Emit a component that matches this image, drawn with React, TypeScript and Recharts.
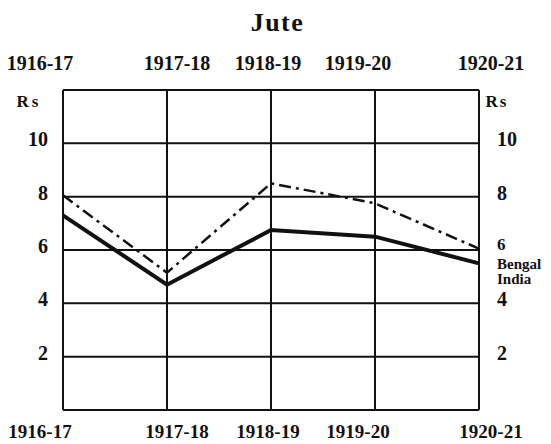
import React from 'react';
import { LineChart, Line, XAxis, YAxis, CartesianGrid } from 'recharts';

const years = ['1916-17', '1917-18', '1918-19', '1919-20', '1920-21'];
const bengal = [8.05, 5.15, 8.5, 7.75, 6.05];
const india = [7.3, 4.7, 6.75, 6.5, 5.5];
const yTicks = [0, 2, 4, 6, 8, 10, 12];
const labeledTicks = [2, 4, 6, 8, 10];
const unitLabel = 'Rs';
const seriesNames = ['Bengal', 'India'];
const title = 'Jute';

const data = years.map((y, i) => ({ year: y, bengal: bengal[i], india: india[i] }));

const FONT = '"Liberation Serif", "Times New Roman", serif';
const LABEL_SHIFT = [-23, 10, -3, -17, 12];

const TopTick = (props: any) => {
  const { x, y, payload, index } = props;
  return (
    <text x={x + LABEL_SHIFT[index]} y={y - 27} dy="0.35em" textAnchor="middle"
      fontFamily={FONT} fontWeight="bold" fontSize={20} fill="#111">
      {payload.value}
    </text>
  );
};

const BottomTick = (props: any) => {
  const { x, y, payload, index } = props;
  return (
    <text x={x + LABEL_SHIFT[index]} y={y + 21} dy="0.35em" textAnchor="middle"
      fontFamily={FONT} fontWeight="bold" fontSize={19} fill="#111">
      {payload.value}
    </text>
  );
};

const LeftTick = (props: any) => {
  const { x, y, payload } = props;
  const v = payload.value;
  if (v === 12) {
    return (
      <text x={x - 34} y={y + 11} dy="0.35em" textAnchor="middle" letterSpacing={3}
        fontFamily={FONT} fontWeight="bold" fontSize={17} fill="#111">{unitLabel}</text>
    );
  }
  if (!labeledTicks.includes(v)) return null;
  return (
    <text x={x - 15} y={y - 4} dy="0.35em" textAnchor="end"
      fontFamily={FONT} fontWeight="bold" fontSize={20} fill="#111">{v}</text>
  );
};

const RightTick = (props: any) => {
  const { x, y, payload } = props;
  const v = payload.value;
  if (v === 12) {
    return (
      <text x={x + 18} y={y + 11} dy="0.35em" textAnchor="middle" letterSpacing={2}
        fontFamily={FONT} fontWeight="bold" fontSize={17} fill="#111">{unitLabel}</text>
    );
  }
  if (!labeledTicks.includes(v)) return null;
  const isSix = v === 6;
  return (
    <g>
      <text x={x + 18} y={y - (isSix ? 6 : 4)} dy="0.35em" textAnchor="start"
        fontFamily={FONT} fontWeight="bold" fontSize={isSix ? 17 : 20} fill="#111">{v}</text>
      {isSix && (
        <>
          <text x={x + 18} y={y + 14} dy="0.35em" textAnchor="start"
            fontFamily={FONT} fontWeight="bold" fontSize={15} fill="#111">{seriesNames[0]}</text>
          <text x={x + 18} y={y + 29} dy="0.35em" textAnchor="start"
            fontFamily={FONT} fontWeight="bold" fontSize={15} fill="#111">{seriesNames[1]}</text>
        </>
      )}
    </g>
  );
};

export default function App() {
  return (
    <div style={{ position: 'absolute', left: 0, top: 0, width: 551, height: 444, background: '#fff' }}>
      <div style={{
        position: 'absolute', left: 0, top: 8, width: 551, textAlign: 'center',
        fontFamily: FONT, fontWeight: 'bold', fontSize: 26, letterSpacing: 1.5, lineHeight: '30px', color: '#111',
        paddingLeft: 2,
      }}>{title}</div>
      <LineChart width={551} height={444} data={data} margin={{ top: 0, right: 0, bottom: 0, left: 0 }}>
        <CartesianGrid xAxisId="bottom" yAxisId="left" stroke="#111" strokeWidth={2} />
        <XAxis xAxisId="top" dataKey="year" orientation="top" height={90} axisLine={false}
          tickLine={false} tickSize={0} tickMargin={0} interval={0} tick={<TopTick />} />
        <XAxis xAxisId="bottom" dataKey="year" orientation="bottom" height={34} axisLine={false}
          tickLine={false} tickSize={0} tickMargin={0} interval={0} tick={<BottomTick />} />
        <YAxis yAxisId="left" orientation="left" width={63} domain={[0, 12]} ticks={yTicks}
          axisLine={false} tickLine={false} tickSize={0} tickMargin={0} interval={0} tick={<LeftTick />} />
        <YAxis yAxisId="right" orientation="right" width={72} domain={[0, 12]} ticks={yTicks}
          axisLine={false} tickLine={false} tickSize={0} tickMargin={0} interval={0} tick={<RightTick />} />
        <Line xAxisId="top" yAxisId="right" dataKey="bengal" stroke="#111" strokeWidth={2.5}
          strokeDasharray="12 5 3 5" dot={false} isAnimationActive={false} />
        <Line xAxisId="bottom" yAxisId="left" dataKey="india" stroke="#111" strokeWidth={4}
          dot={false} isAnimationActive={false} />
      </LineChart>
    </div>
  );
}
